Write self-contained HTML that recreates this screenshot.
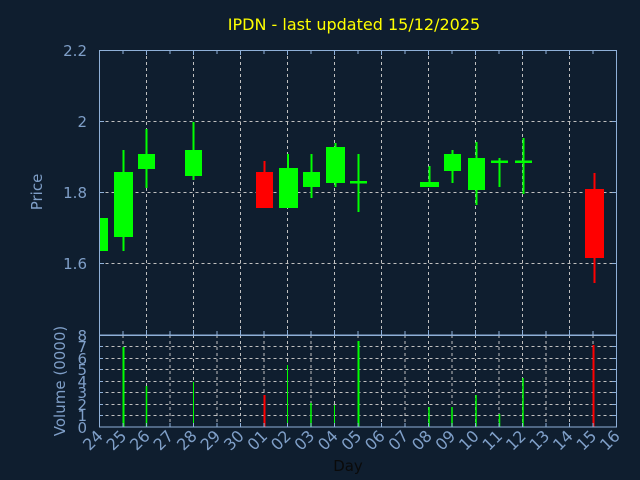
<!DOCTYPE html>
<html><head><meta charset="utf-8"><style>
html,body{margin:0;padding:0;background:#0f1e2f;}
svg{display:block;font-family:"DejaVu Sans","Liberation Sans",sans-serif;}
</style></head><body>
<svg width="640" height="480" viewBox="0 0 640 480" xmlns="http://www.w3.org/2000/svg">
<rect width="640" height="480" fill="#0f1e2f"/>
<text x="354" y="30" fill="#ffff00" font-size="16" text-anchor="middle">IPDN - last updated 15/12/2025</text>
<g stroke="#c0c0c0" stroke-width="1" stroke-dasharray="3,3">
<line x1="99.5" y1="121.5" x2="616.5" y2="121.5"/>
<line x1="99.5" y1="192.5" x2="616.5" y2="192.5"/>
<line x1="99.5" y1="263.5" x2="616.5" y2="263.5"/>
<line x1="146.5" y1="50" x2="146.5" y2="335"/><line x1="193.5" y1="50" x2="193.5" y2="335"/>
<line x1="240.5" y1="50" x2="240.5" y2="335"/><line x1="287.5" y1="50" x2="287.5" y2="335"/>
<line x1="334.5" y1="50" x2="334.5" y2="335"/><line x1="381.5" y1="50" x2="381.5" y2="335"/>
<line x1="428.5" y1="50" x2="428.5" y2="335"/><line x1="475.5" y1="50" x2="475.5" y2="335"/>
<line x1="522.5" y1="50" x2="522.5" y2="335"/><line x1="569.5" y1="50" x2="569.5" y2="335"/>
<line x1="99.5" y1="346.5" x2="616.5" y2="346.5"/><line x1="99.5" y1="358.5" x2="616.5" y2="358.5"/>
<line x1="99.5" y1="369.5" x2="616.5" y2="369.5"/><line x1="99.5" y1="381.5" x2="616.5" y2="381.5"/>
<line x1="99.5" y1="392.5" x2="616.5" y2="392.5"/><line x1="99.5" y1="404.5" x2="616.5" y2="404.5"/>
<line x1="99.5" y1="415.5" x2="616.5" y2="415.5"/>
<line x1="123" y1="335" x2="123" y2="427"/><line x1="146.5" y1="335" x2="146.5" y2="427"/>
<line x1="170" y1="335" x2="170" y2="427"/><line x1="193.5" y1="335" x2="193.5" y2="427"/>
<line x1="217" y1="335" x2="217" y2="427"/><line x1="240.5" y1="335" x2="240.5" y2="427"/>
<line x1="264" y1="335" x2="264" y2="427"/><line x1="287.5" y1="335" x2="287.5" y2="427"/>
<line x1="311" y1="335" x2="311" y2="427"/><line x1="334.5" y1="335" x2="334.5" y2="427"/>
<line x1="358" y1="335" x2="358" y2="427"/><line x1="381.5" y1="335" x2="381.5" y2="427"/>
<line x1="405" y1="335" x2="405" y2="427"/><line x1="428.5" y1="335" x2="428.5" y2="427"/>
<line x1="452" y1="335" x2="452" y2="427"/><line x1="475.5" y1="335" x2="475.5" y2="427"/>
<line x1="499" y1="335" x2="499" y2="427"/><line x1="522.5" y1="335" x2="522.5" y2="427"/>
<line x1="546" y1="335" x2="546" y2="427"/><line x1="569.5" y1="335" x2="569.5" y2="427"/>
<line x1="593" y1="335" x2="593" y2="427"/>
</g>
<g stroke-width="2">
<rect x="99.5" y="218" width="8.5" height="33" fill="#00ff00"/>
<line x1="123.5" y1="150" x2="123.5" y2="251" stroke="#00ff00"/><rect x="114" y="172" width="19" height="65" fill="#00ff00"/>
<line x1="146.5" y1="129" x2="146.5" y2="188" stroke="#00ff00"/><rect x="138" y="154" width="17" height="15" fill="#00ff00"/>
<line x1="193.5" y1="122" x2="193.5" y2="180" stroke="#00ff00"/><rect x="185" y="150" width="17" height="26" fill="#00ff00"/>
<line x1="264.5" y1="161" x2="264.5" y2="208" stroke="#ff0000"/><rect x="256" y="172" width="17" height="36" fill="#ff0000"/>
<line x1="288" y1="154" x2="288" y2="208" stroke="#00ff00"/><rect x="279" y="168" width="19" height="40" fill="#00ff00"/>
<line x1="311.5" y1="154" x2="311.5" y2="198" stroke="#00ff00"/><rect x="303" y="172" width="17" height="15" fill="#00ff00"/>
<line x1="335.5" y1="143" x2="335.5" y2="187" stroke="#00ff00"/><rect x="326" y="147" width="19" height="36" fill="#00ff00"/>
<line x1="358.5" y1="154" x2="358.5" y2="212" stroke="#00ff00"/><rect x="350" y="181" width="17" height="2.5" fill="#00ff00"/>
<line x1="429.5" y1="166" x2="429.5" y2="187" stroke="#00ff00"/><rect x="420" y="182" width="19" height="5" fill="#00ff00"/>
<line x1="452.5" y1="150" x2="452.5" y2="183" stroke="#00ff00"/><rect x="444" y="154" width="17" height="17" fill="#00ff00"/>
<line x1="476.5" y1="142" x2="476.5" y2="205" stroke="#00ff00"/><rect x="468" y="158" width="17" height="32" fill="#00ff00"/>
<line x1="499.5" y1="158" x2="499.5" y2="187" stroke="#00ff00"/><rect x="491" y="160.5" width="17" height="2.5" fill="#00ff00"/>
<line x1="523.5" y1="138" x2="523.5" y2="194" stroke="#00ff00"/><rect x="515" y="160.5" width="17" height="2.5" fill="#00ff00"/>
<line x1="594.5" y1="173" x2="594.5" y2="283" stroke="#ff0000"/><rect x="585" y="189" width="19" height="69" fill="#ff0000"/>
</g>
<g stroke-width="2">
<line x1="123.5" y1="427" x2="123.5" y2="347" stroke="#00ff00"/>
<line x1="146.5" y1="427" x2="146.5" y2="386" stroke="#00ff00" stroke-width="1.5"/>
<line x1="193.5" y1="427" x2="193.5" y2="382" stroke="#00ff00" stroke-width="1"/>
<line x1="264.5" y1="427" x2="264.5" y2="395" stroke="#ff0000"/>
<line x1="287.5" y1="427" x2="287.5" y2="365" stroke="#00ff00" stroke-width="1"/>
<line x1="311" y1="427" x2="311" y2="403" stroke="#00ff00" stroke-width="1.5"/>
<line x1="334.5" y1="427" x2="334.5" y2="405" stroke="#00ff00" stroke-width="1"/>
<line x1="358.5" y1="427" x2="358.5" y2="341" stroke="#00ff00"/>
<line x1="429" y1="427" x2="429" y2="407" stroke="#00ff00" stroke-width="1.5"/>
<line x1="452" y1="427" x2="452" y2="407" stroke="#00ff00" stroke-width="1.5"/>
<line x1="476" y1="427" x2="476" y2="395" stroke="#00ff00" stroke-width="1.5"/>
<line x1="499.5" y1="427" x2="499.5" y2="414" stroke="#00ff00" stroke-width="1.5"/>
<line x1="523" y1="427" x2="523" y2="378" stroke="#00ff00" stroke-width="1.5"/>
<line x1="593.5" y1="427" x2="593.5" y2="345" stroke="#ff0000"/>
</g>
<g stroke="#8fb0d8" stroke-width="1" fill="none">
<rect x="99.5" y="50.5" width="517" height="284.5"/>
<rect x="99.5" y="335.5" width="517" height="91.5"/>
</g>
<g stroke="#8fb0d8" stroke-width="1">
<path d="M123 50v4M146.5 50v5M170 50v4M193.5 50v5M217 50v4M240.5 50v5M264 50v4M287.5 50v5M311 50v4M334.5 50v5M358 50v4M381.5 50v5M405 50v4M428.5 50v5M452 50v4M475.5 50v5M499 50v4M522.5 50v5M546 50v4M569.5 50v5M593 50v4"/>
<path d="M123 335v-4M146.5 335v-5M170 335v-4M193.5 335v-5M217 335v-4M240.5 335v-5M264 335v-4M287.5 335v-5M311 335v-4M334.5 335v-5M358 335v-4M381.5 335v-5M405 335v-4M428.5 335v-5M452 335v-4M475.5 335v-5M499 335v-4M522.5 335v-5M546 335v-4M569.5 335v-5M593 335v-4"/>
<path d="M123 427v-4M146.5 427v-4M170 427v-4M193.5 427v-4M217 427v-4M240.5 427v-4M264 427v-4M287.5 427v-4M311 427v-4M334.5 427v-4M358 427v-4M381.5 427v-4M405 427v-4M428.5 427v-4M452 427v-4M475.5 427v-4M499 427v-4M522.5 427v-4M546 427v-4M569.5 427v-4M593 427v-4"/>
<path d="M99 121.5h5M99 192.5h5M99 263.5h5M612 121.5h5M612 192.5h5M612 263.5h5"/>
<path d="M99 346.5h4M99 358.5h4M99 369.5h4M99 381.5h4M99 392.5h4M99 404.5h4M99 415.5h4M612 346.5h4M612 358.5h4M612 369.5h4M612 381.5h4M612 392.5h4M612 404.5h4M612 415.5h4"/>
</g>
<g fill="#7f9fc8" font-size="15" text-anchor="end">
<text x="87" y="56">2.2</text><text x="87" y="127">2</text><text x="87" y="198">1.8</text><text x="87" y="269">1.6</text>
<text x="87" y="341">8</text><text x="87" y="352">7</text><text x="87" y="364">6</text><text x="87" y="375">5</text>
<text x="87" y="387">4</text><text x="87" y="398">3</text><text x="87" y="410">2</text><text x="87" y="421">1</text><text x="87" y="433">0</text>
</g>
<text transform="translate(42,192) rotate(-90)" fill="#7f9fc8" font-size="15" text-anchor="middle">Price</text>
<text transform="translate(65,381) rotate(-90)" fill="#7f9fc8" font-size="15" text-anchor="middle">Volume (0000)</text>
<text x="348" y="471" fill="#0a0a0a" font-size="15" text-anchor="middle">Day</text>
<g fill="#7f9fc8" font-size="16" text-anchor="end">
<text transform="translate(104,437) rotate(-45)">24</text>
<text transform="translate(127.5,437) rotate(-45)">25</text>
<text transform="translate(151,437) rotate(-45)">26</text>
<text transform="translate(174.5,437) rotate(-45)">27</text>
<text transform="translate(198,437) rotate(-45)">28</text>
<text transform="translate(221.5,437) rotate(-45)">29</text>
<text transform="translate(245,437) rotate(-45)">30</text>
<text transform="translate(268.5,437) rotate(-45)">01</text>
<text transform="translate(292,437) rotate(-45)">02</text>
<text transform="translate(315.5,437) rotate(-45)">03</text>
<text transform="translate(339,437) rotate(-45)">04</text>
<text transform="translate(362.5,437) rotate(-45)">05</text>
<text transform="translate(386,437) rotate(-45)">06</text>
<text transform="translate(409.5,437) rotate(-45)">07</text>
<text transform="translate(433,437) rotate(-45)">08</text>
<text transform="translate(456.5,437) rotate(-45)">09</text>
<text transform="translate(480,437) rotate(-45)">10</text>
<text transform="translate(503.5,437) rotate(-45)">11</text>
<text transform="translate(527,437) rotate(-45)">12</text>
<text transform="translate(550.5,437) rotate(-45)">13</text>
<text transform="translate(574,437) rotate(-45)">14</text>
<text transform="translate(597.5,437) rotate(-45)">15</text>
<text transform="translate(621,437) rotate(-45)">16</text>
</g>
</svg>
</body></html>
